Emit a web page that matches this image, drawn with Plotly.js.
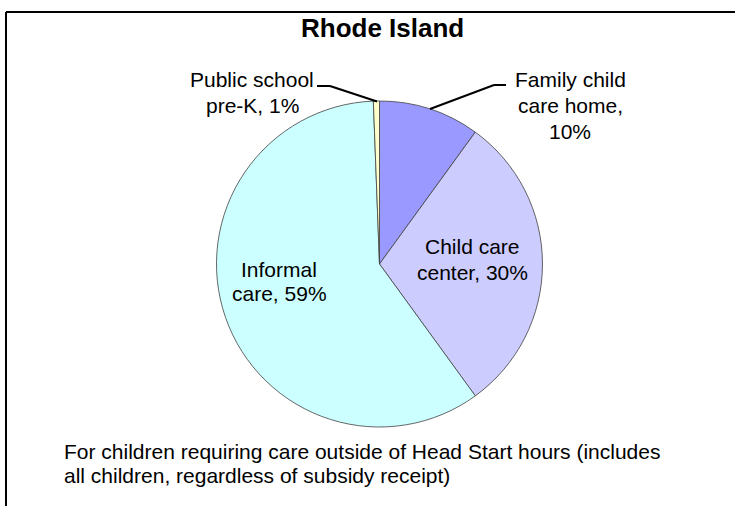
<!DOCTYPE html>
<html>
<head>
<meta charset="utf-8">
<script src="https://cdn.plot.ly/plotly-3.0.1.min.js"></script>
<style>
  html, body { margin: 0; padding: 0; background: #ffffff; }
  #chart { width: 735px; height: 506px; }
</style>
</head>
<body>
<div id="chart"></div>
<script>
// ---- data ----
const chartTitle = 'Rhode Island';
const categories = ['Family child care home', 'Child care center', 'Informal care', 'Public school pre-K'];
const values = [10, 30, 59.4, 0.6];
const sliceColors = ['#9999FF', '#CCCCFF', '#CCFFFF', '#FFFFCC'];
// how each category label is broken into lines (percentage appended after the last part)
const labelLines = [
  ['Family child', 'care home,', ''],
  ['Child care', 'center,'],
  ['Informal', 'care,'],
  ['Public school', 'pre-K,']
];
const footnote = ['For children requiring care outside of Head Start hours (includes',
                  'all children, regardless of subsidy receipt)'];

// ---- layout helpers ----
const W = 735, H = 506;
const px = x => x / W;
const py = y => 1 - y / H;

const total = values.reduce((a, b) => a + b, 0);
const pcts = values.map(v => Math.round(v / total * 100) + '%');

// label placement: [center x, first line middle y, line pitch]
const labelPos = [
  [570, 80, 25.5],
  [472, 246, 26.5],
  [279, 269, 24.5],
  [252, 80, 25]
];

const annotations = [];
labelLines.forEach((parts, i) => {
  const lines = parts.slice();
  const last = lines.length - 1;
  lines[last] = (lines[last] ? lines[last] + ' ' : '') + pcts[i];
  const [cx, y0, pitch] = labelPos[i];
  lines.forEach((t, j) => {
    annotations.push({
      text: t, showarrow: false, xref: 'paper', yref: 'paper',
      x: px(cx), y: py(y0 + j * pitch), xanchor: 'center', yanchor: 'middle',
      font: {family: 'Liberation Sans, Arial, sans-serif', size: 21, color: '#000000'}
    });
  });
});
footnote.forEach((t, j) => {
  annotations.push({
    text: t, showarrow: false, xref: 'paper', yref: 'paper',
    x: px(62), y: py(451 + j * 24.5), xanchor: 'left', yanchor: 'middle',
    font: {family: 'Liberation Sans, Arial, sans-serif', size: 21, color: '#000000'}
  });
});
annotations.push({
  text: '<b>' + chartTitle + '</b>', showarrow: false, xref: 'paper', yref: 'paper',
  x: px(383), y: py(28), xanchor: 'center', yanchor: 'middle',
  font: {family: 'Liberation Sans, Arial, sans-serif', size: 26, color: '#000000'}
});

const line = (x0, y0, x1, y1, w) => ({
  type: 'line', xref: 'paper', yref: 'paper',
  x0: px(x0), y0: py(y0), x1: px(x1), y1: py(y1),
  line: {color: '#000000', width: w}
});
const shapes = [
  // chart border (left and top visible)
  line(6, 12, 6, 520, 2),
  line(6, 12, 745, 12, 2),
  // leader: Public school pre-K
  line(317, 86, 330, 86, 2),
  line(330, 86, 377, 101.5, 2),
  // leader: Family child care home
  line(430, 109, 494, 85, 2),
  line(494, 85, 506, 85, 2)
];

const cx = 379.5, cy = 264, r = 163;
const trace = {
  type: 'pie',
  labels: categories,
  values: values,
  sort: false,
  direction: 'clockwise',
  rotation: 0,
  textinfo: 'none',
  hoverinfo: 'none',
  marker: {colors: sliceColors, line: {color: '#404040', width: 0.8}},
  domain: {x: [px(cx - r), px(cx + r)], y: [py(cy + r), py(cy - r)]},
  showlegend: false
};

const layout = {
  width: W, height: H,
  margin: {l: 0, r: 0, t: 0, b: 0},
  paper_bgcolor: '#ffffff',
  showlegend: false,
  annotations: annotations,
  shapes: shapes
};

Plotly.newPlot('chart', [trace], layout, {displayModeBar: false, staticPlot: true});
</script>
</body>
</html>
